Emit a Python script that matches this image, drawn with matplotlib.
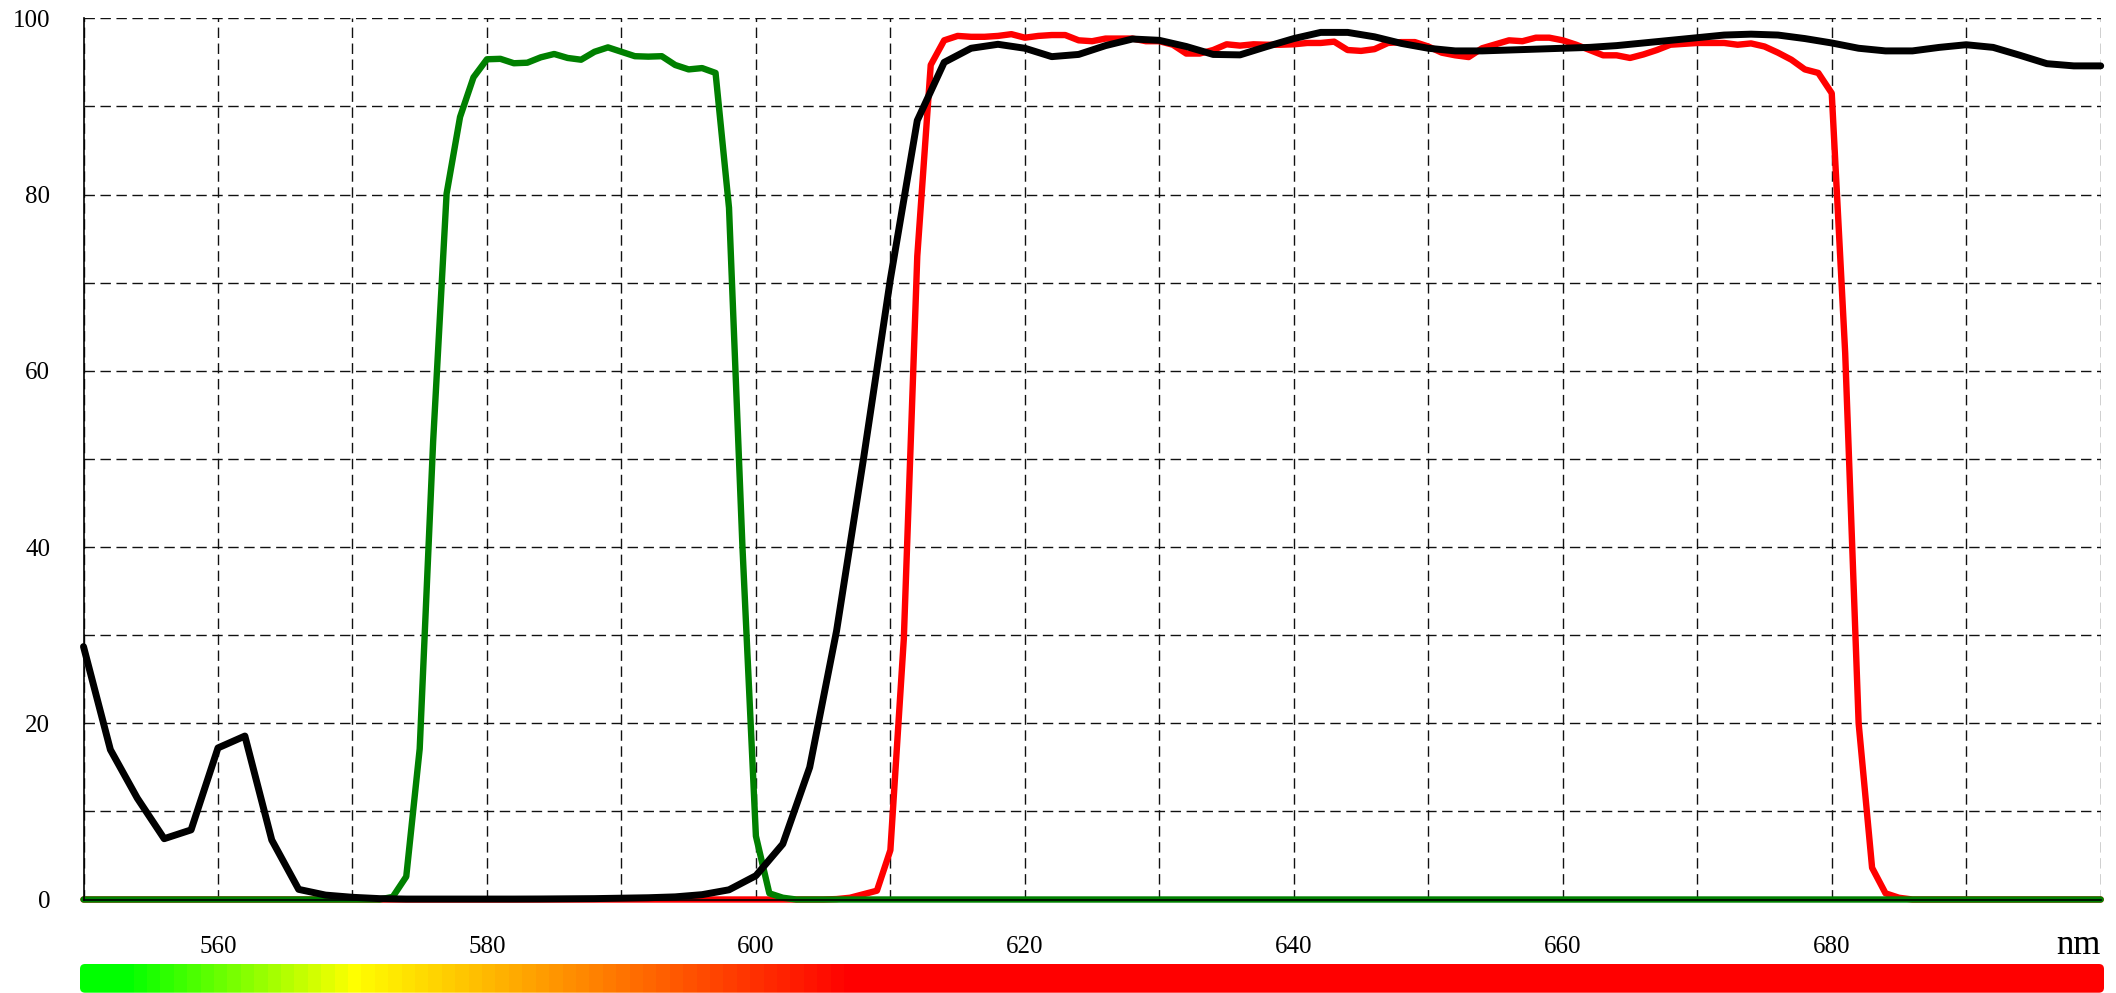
import numpy as np
import matplotlib
matplotlib.use("Agg")
import matplotlib.pyplot as plt
from matplotlib.patches import FancyBboxPatch

# ---------------- data ----------------
wl_1nm = list(range(550, 701))          # 1 nm grid for green and red
wl_2nm = list(range(550, 701, 2))       # 2 nm grid for black

green_vals = ([0.0] * 23 +              # 550..572
              [0.3, 2.6, 17.1, 52.0, 80.1, 88.8, 93.3,          # 573..579
               95.35, 95.4, 94.9, 94.96, 95.57, 95.95, 95.5, 95.3, 96.2, 96.7,  # 580..589
               96.2, 95.7, 95.65, 95.7, 94.7, 94.2, 94.35, 93.8, 78.5, 40.0,    # 590..599
               7.2, 0.7, 0.2] +         # 600..602
              [0.0] * 98)               # 603..700

red_vals = ([0.0] * 56 +                # 550..605
            [0.05, 0.2, 0.6, 1.0,       # 606..609
             5.6, 29.6, 73.0, 94.7, 97.5, 98.0, 97.9, 97.9, 98.0, 98.2,   # 610..619
             97.8, 98.0, 98.1, 98.1, 97.5, 97.4, 97.7, 97.7, 97.7, 97.4,  # 620..629
             97.4, 97.0, 96.0, 96.0, 96.4, 97.05, 96.9, 97.05, 97.0, 97.0,  # 630..639
             97.05, 97.2, 97.2, 97.35, 96.4, 96.3, 96.5, 97.2, 97.3, 97.3,  # 640..649
             96.8, 96.1, 95.8, 95.6, 96.6, 97.05, 97.5, 97.4, 97.8, 97.8,   # 650..659
             97.5, 97.0, 96.4, 95.8, 95.8, 95.5, 95.9, 96.4, 97.0, 97.1,    # 660..669
             97.2, 97.2, 97.2, 97.0, 97.15, 96.8, 96.1, 95.3, 94.2, 93.8,   # 670..679
             91.5, 62.0, 20.0, 3.6, 0.7, 0.2] +                              # 680..685
            [0.0] * 15)                 # 686..700

black_vals = [28.7, 17.0, 11.5, 6.9, 7.9, 17.2, 18.55, 6.75, 1.15, 0.5,      # 550..568
              0.25, 0.1, 0.05, 0.05, 0.05, 0.05, 0.05, 0.06, 0.08, 0.1,      # 570..588
              0.15, 0.2, 0.3, 0.55, 1.1, 2.7, 6.3, 15.0, 30.5, 50.0,         # 590..608
              70.4, 88.4, 95.0, 96.6, 97.05, 96.6, 95.65, 95.9, 96.9, 97.65, # 610..628
              97.5, 96.8, 95.9, 95.85, 96.8, 97.7, 98.4, 98.4, 97.9, 97.15,  # 630..648
              96.6, 96.3, 96.3, 96.4, 96.5, 96.6, 96.7, 96.9, 97.2, 97.5,    # 650..668
              97.8, 98.1, 98.2, 98.1, 97.7, 97.2, 96.6, 96.3, 96.3, 96.7,    # 670..688
              97.0, 96.7, 95.8, 94.85, 94.6, 94.6]                           # 690..700

x_ticks = list(range(550, 701, 10))
x_labels = ["", "560", "", "580", "", "600", "", "620", "", "640", "", "660", "", "680", "", ""]
y_ticks = list(range(0, 101, 10))
y_labels = ["0", "", "20", "", "40", "", "60", "", "80", "", "100"]
x_unit = "nm"

# colour strip stops (wavelength nm, r, g, b)
strip_wl = [550, 553, 570, 582, 607, 700]
strip_r = [0, 0, 255, 255, 255, 255]
strip_g = [255, 255, 255, 170, 0, 0]
strip_b = [0, 0, 0, 0, 0, 0]

# ---------------- figure ----------------
W, H = 2116, 993
fig = plt.figure(figsize=(W / 100, H / 100), dpi=100)
plt.rcParams['font.family'] = ['Liberation Serif', 'DejaVu Serif']

ax_l, ax_r, ax_t, ax_b = 83.5, 2100.7, 18.3, 899.5
ax = fig.add_axes([ax_l / W, 1 - ax_b / H, (ax_r - ax_l) / W, (ax_b - ax_t) / H])

ax.plot(wl_1nm, red_vals, color="#ff0000", lw=4.6, solid_capstyle="round",
        solid_joinstyle="round", clip_on=False, zorder=3)
ax.plot(wl_1nm, green_vals, color="#008000", lw=4.6, solid_capstyle="round",
        solid_joinstyle="round", clip_on=False, zorder=4)
ax.plot(wl_2nm, black_vals, color="#000000", lw=5.0, solid_capstyle="round",
        solid_joinstyle="round", clip_on=False, zorder=5)

ax.set_xlim(550, 700)
ax.set_ylim(0, 100)
ax.set_xticks(x_ticks)
ax.set_xticklabels(x_labels)
ax.set_yticks(y_ticks)
ax.set_yticklabels(y_labels)
ax.tick_params(axis="both", length=0, labelsize=18, colors="black")
ax.tick_params(axis="x", pad=26)
ax.tick_params(axis="y", pad=24)
ax.grid(True, color="#111111", lw=1.0, linestyle=(0, (7.5, 4.0)))
ax.set_axisbelow(True)
for s in ["top", "right"]:
    ax.spines[s].set_visible(False)
for s in ["left", "bottom"]:
    ax.spines[s].set_linewidth(1.2)
    ax.spines[s].set_color("black")
    ax.spines[s].set_zorder(6)

fig.text(ax_r / W, 1 - 946 / H, x_unit, ha="right", va="center", fontsize=25)

# ---------------- colour strip ----------------
cb_l, cb_r, cb_t, cb_b = 80, 2104, 964, 992.7
cax = fig.add_axes([cb_l / W, 1 - cb_b / H, (cb_r - cb_l) / W, (cb_b - cb_t) / H])
cax.set_axis_off()
blocks = np.arange(550, 701)
cols = np.stack([np.interp(blocks, strip_wl, strip_r),
                 np.interp(blocks, strip_wl, strip_g),
                 np.interp(blocks, strip_wl, strip_b)], axis=-1) / 255.0
im = cax.imshow(cols[None, :, :], aspect="auto", interpolation="nearest",
                extent=[0, 1, 0, 1])
cax.set_xlim(0, 1)
cax.set_ylim(0, 1)
wpx, hpx = cb_r - cb_l, cb_b - cb_t
r_px = 5
clip = FancyBboxPatch((0, 0), 1, 1, boxstyle=f"round,pad=0,rounding_size={r_px / wpx}",
                      mutation_aspect=wpx / hpx, transform=cax.transAxes,
                      facecolor="none", edgecolor="none")
cax.add_patch(clip)
im.set_clip_path(clip)

fig.savefig("out.png", dpi=100)
